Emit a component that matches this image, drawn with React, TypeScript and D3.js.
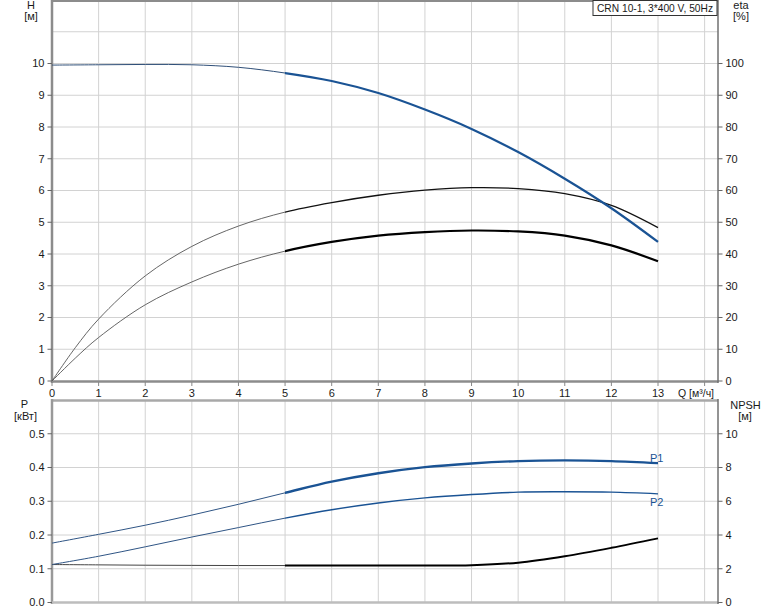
import React from "react";
import * as d3 from "d3";

// ---------- data ----------
const qEta = [0, 0.5, 1, 2, 3, 4, 5, 6, 7, 8, 9, 10, 11, 12, 13];
const etaUpper = [0, 10.5, 19.5, 33.1, 42.4, 48.8, 53.2, 56.2, 58.5, 60.1, 60.9, 60.6, 59.0, 55.3, 48.3];
const etaLower = [0, 7.2, 13.7, 24.0, 31.2, 36.8, 40.9, 43.8, 45.8, 46.9, 47.4, 47.1, 45.8, 42.7, 37.7];

const qMain = [0, 1, 2, 3, 4, 5, 6, 7, 8, 9, 10, 11, 12, 13];
const headH = [9.95, 9.96, 9.97, 9.96, 9.88, 9.7, 9.45, 9.07, 8.55, 7.94, 7.21, 6.37, 5.44, 4.38];
const powerP1 = [0.176, 0.202, 0.229, 0.259, 0.291, 0.325, 0.358, 0.383, 0.401, 0.412, 0.419, 0.421, 0.419, 0.413];
const powerP2 = [0.1125, 0.137, 0.165, 0.194, 0.222, 0.25, 0.275, 0.295, 0.31, 0.32, 0.327, 0.328, 0.327, 0.322];
const npsh = [2.25, 2.23, 2.21, 2.2, 2.19, 2.19, 2.19, 2.19, 2.19, 2.21, 2.36, 2.74, 3.24, 3.8];

const xTickLabels = [0, 1, 2, 3, 4, 5, 6, 7, 8, 9, 10, 11, 12, 13];
const hTicks = [0, 1, 2, 3, 4, 5, 6, 7, 8, 9, 10];
const etaTicks = [0, 10, 20, 30, 40, 50, 60, 70, 80, 90, 100];
const pTicks = [0, 0.1, 0.2, 0.3, 0.4, 0.5];
const npshTicks = [0, 2, 4, 6, 8, 10];
const titleText = "CRN 10-1, 3*400 V, 50Hz";

// ---------- layout ----------
const W = 774;
const HGT = 611;
const X0 = 52;
const XR = 718;
const THICK_FROM = 5;

const FONT = "'Liberation Sans', Arial, sans-serif";
const BLUE = "#1a5394";
const TXT = "#1a1a1a";
const GRID = "#d2d2d2";

export default function App() {
  const x = d3.scaleLinear().domain([0, 13]).range([X0, 658]);
  const yH = d3.scaleLinear().domain([0, 12]).range([381, 0]);
  const yEta = d3.scaleLinear().domain([0, 120]).range([381, 0]);
  const yP = d3.scaleLinear().domain([0, 0.6]).range([602.5, 400]);
  const yN = d3.scaleLinear().domain([0, 12]).range([602.5, 400]);

  const xMaxVal = x.invert(XR);
  const xGrid = d3.range(1, Math.floor(xMaxVal) + 1);
  const hGrid = d3.range(1, 12);
  const pGrid = [0.1, 0.2, 0.3, 0.4, 0.5];

  const mk = (qs: number[], vs: number[], ys: d3.ScaleLinear<number, number>) =>
    d3
      .line<number>()
      .x((_, i) => x(qs[i]))
      .y((v) => ys(v))
      .curve(d3.curveCatmullRom.alpha(0.5))(vs) || "";

  const pathH = mk(qMain, headH, yH);
  const pathEtaU = mk(qEta, etaUpper, yEta);
  const pathEtaL = mk(qEta, etaLower, yEta);
  const pathP1 = mk(qMain, powerP1, yP);
  const pathP2 = mk(qMain, powerP2, yP);
  const pathN = mk(qMain, npsh, yN);

  const xs = x(THICK_FROM);

  const seg = (d: string, thin: any, thick: any) => (
    <g>
      <path d={d} fill="none" clipPath="url(#clipThin)" {...thin} />
      <path d={d} fill="none" clipPath="url(#clipThick)" {...thick} />
    </g>
  );

  return (
    <svg
      width={W}
      height={HGT}
      style={{ position: "absolute", left: 0, top: 0, background: "#fff" }}
      fontFamily={FONT}
      fontSize={11}
    >
      <defs>
        <clipPath id="clipThin">
          <rect x={0} y={0} width={xs} height={HGT} />
        </clipPath>
        <clipPath id="clipThick">
          <rect x={xs} y={0} width={W - xs} height={HGT} />
        </clipPath>
      </defs>
      <rect x={0} y={0} width={W} height={HGT} fill="#fff" />

      {/* ---------- top chart grid ---------- */}
      {xGrid.map((v) => (
        <line key={"xg" + v} x1={x(v)} x2={x(v)} y1={0} y2={381} stroke={GRID} strokeWidth={1} />
      ))}
      {hGrid.map((v) => (
        <line key={"hg" + v} x1={X0} x2={XR} y1={yH(v)} y2={yH(v)} stroke={GRID} strokeWidth={1} />
      ))}

      {/* ---------- bottom chart grid ---------- */}
      {xGrid.map((v) => (
        <line key={"xg2" + v} x1={x(v)} x2={x(v)} y1={400} y2={602} stroke={GRID} strokeWidth={1} />
      ))}
      {pGrid.map((v) => (
        <line key={"pg" + v} x1={X0} x2={XR} y1={yP(v)} y2={yP(v)} stroke={GRID} strokeWidth={1} />
      ))}

      {/* ---------- top chart axes ---------- */}
      <line x1={X0} x2={XR} y1={1} y2={1} stroke="#8c8c8c" strokeWidth={2} />
      <line x1={X0} x2={X0} y1={0} y2={383} stroke="#8c8c8c" strokeWidth={2.5} />
      <line x1={X0} x2={XR} y1={381.5} y2={381.5} stroke="#8c8c8c" strokeWidth={2.5} />
      <line x1={XR} x2={XR} y1={0} y2={383} stroke="#707070" strokeWidth={1.5} />

      {/* ---------- bottom chart axes ---------- */}
      <line x1={X0} x2={XR} y1={400.5} y2={400.5} stroke="#a8a8a8" strokeWidth={2.5} />
      <line x1={X0} x2={X0} y1={399} y2={604} stroke="#999" strokeWidth={2.5} />
      <line x1={X0} x2={XR} y1={602.5} y2={602.5} stroke="#bdbdbd" strokeWidth={2.5} />
      <line x1={XR} x2={XR} y1={399} y2={604} stroke="#707070" strokeWidth={1.5} />

      {/* x ticks + labels */}
      {xTickLabels.map((v) => (
        <g key={"xt" + v}>
          <line x1={x(v)} x2={x(v)} y1={382} y2={386} stroke="#888" strokeWidth={1} />
          <text x={x(v)} y={396.5} textAnchor="middle" fill={TXT}>
            {v}
          </text>
        </g>
      ))}
      <line x1={x(14)} x2={x(14)} y1={382} y2={386} stroke="#888" strokeWidth={1} />
      <text x={678} y={396.5} fill={TXT} fontSize={10.5}>
        Q [м³/ч]
      </text>

      {/* H ticks */}
      {hTicks.map((v) => (
        <g key={"ht" + v}>
          <line x1={47.5} x2={X0} y1={yH(v)} y2={yH(v)} stroke="#666" strokeWidth={1} />
          <text x={44.5} y={yH(v)} dy="0.36em" textAnchor="end" fill={TXT}>
            {v}
          </text>
        </g>
      ))}
      {etaTicks.map((v) => (
        <g key={"et" + v}>
          <line x1={XR} x2={722.5} y1={yEta(v)} y2={yEta(v)} stroke="#666" strokeWidth={1} />
          <text x={725.5} y={yEta(v)} dy="0.36em" fill={TXT}>
            {v}
          </text>
        </g>
      ))}
      {pTicks.map((v) => (
        <g key={"pt" + v}>
          <line x1={47.5} x2={X0} y1={yP(v)} y2={yP(v)} stroke="#666" strokeWidth={1} />
          <text x={44.5} y={yP(v)} dy="0.36em" textAnchor="end" fill={TXT}>
            {d3.format(".1f")(v)}
          </text>
        </g>
      ))}
      {npshTicks.map((v) => (
        <g key={"nt" + v}>
          <line x1={XR} x2={722.5} y1={yN(v)} y2={yN(v)} stroke="#666" strokeWidth={1} />
          <text x={725.5} y={yN(v)} dy="0.36em" fill={TXT}>
            {v}
          </text>
        </g>
      ))}

      {/* axis titles */}
      <text x={31} y={9} textAnchor="middle" fill={TXT}>H</text>
      <text x={31} y={20} textAnchor="middle" fill={TXT}>[м]</text>
      <text x={741} y={8.5} textAnchor="middle" fill={TXT}>eta</text>
      <text x={741} y={20} textAnchor="middle" fill={TXT}>[%]</text>
      <text x={24.5} y={407.5} textAnchor="middle" fill={TXT}>P</text>
      <text x={25.5} y={420} textAnchor="middle" fill={TXT}>[кВт]</text>
      <text x={745.5} y={408.5} textAnchor="middle" fill={TXT}>NPSH</text>
      <text x={745} y={420} textAnchor="middle" fill={TXT}>[м]</text>

      {/* legend box */}
      <rect x={593} y={0.5} width={124} height={15} fill="#fff" stroke="#333" strokeWidth={1} />
      <text x={597} y={11.5} fill={TXT} textLength={116} lengthAdjust="spacingAndGlyphs">
        {titleText}
      </text>

      {/* ---------- curves top ---------- */}
      {seg(pathEtaU, { stroke: "#555", strokeWidth: 0.9 }, { stroke: "#111", strokeWidth: 1.3 })}
      {seg(pathEtaL, { stroke: "#555", strokeWidth: 0.9 }, { stroke: "#000", strokeWidth: 2.2 })}
      {seg(pathH, { stroke: "#2f4f78", strokeWidth: 1 }, { stroke: BLUE, strokeWidth: 2.2 })}

      {/* ---------- curves bottom ---------- */}
      {seg(pathN, { stroke: "#444", strokeWidth: 1 }, { stroke: "#000", strokeWidth: 2 })}
      {seg(pathP2, { stroke: "#2f5585", strokeWidth: 1 }, { stroke: BLUE, strokeWidth: 1.4 })}
      {seg(pathP1, { stroke: "#2f5585", strokeWidth: 1 }, { stroke: BLUE, strokeWidth: 2.4 })}

      <text x={650} y={462} fill={BLUE}>P1</text>
      <text x={650} y={506} fill={BLUE}>P2</text>
    </svg>
  );
}
